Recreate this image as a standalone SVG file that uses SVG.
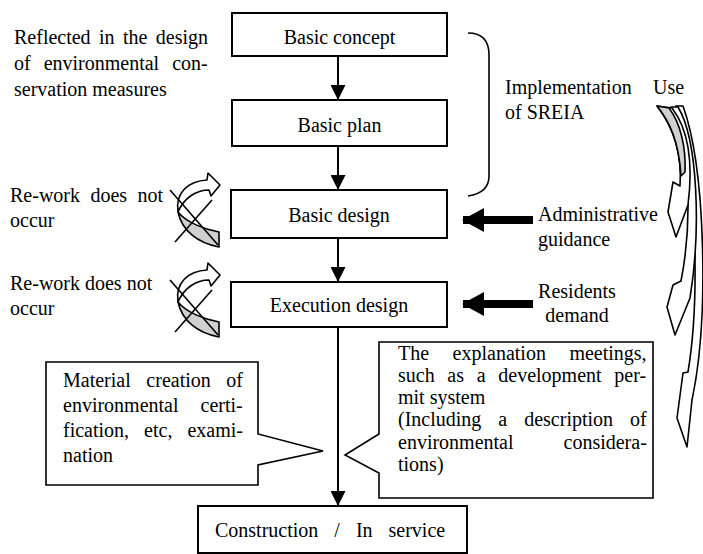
<svg xmlns="http://www.w3.org/2000/svg" width="703" height="554" viewBox="0 0 703 554">
<style>
text{font-family:"Liberation Serif","Times New Roman",serif;font-size:20px;fill:#000}
.box{fill:#fff;stroke:#000;stroke-width:2}
.call{fill:#fff;stroke:#000;stroke-width:1.6}
.flow{stroke:#000;stroke-width:2;fill:none}
.thick{stroke:#000;stroke-width:8;fill:none}
.mid{text-anchor:middle}
.rib{fill:#fff;stroke:#000;stroke-width:1.6;stroke-linejoin:round}
.ribg{fill:#d0d0d0;stroke:#000;stroke-width:1.6;stroke-linejoin:round}
</style>
<defs>
<marker id="ah" viewBox="0 0 15 15" refX="15" refY="7.5" markerWidth="15" markerHeight="15" markerUnits="userSpaceOnUse" orient="auto">
<path d="M0,0 L15,7.5 L0,15 Z" fill="#000"/>
</marker>
<marker id="bh" viewBox="0 0 22 24" refX="21" refY="12" markerWidth="22" markerHeight="24" markerUnits="userSpaceOnUse" orient="auto">
<path d="M0,0 L22,12 L0,24 Z" fill="#000"/>
</marker>
<g id="rework">
<path class="ribg" d="M8,39 C12,58 28,70 49,74 L49,59 C33,56 16,49 8,39 Z"/>
<path class="rib" d="M8,39 C5,20 18,8 37,7 L38,0 L50,12 L41,23 L39,17 C26,17 14,25 8,39 Z"/>
<line x1="0" y1="17" x2="48" y2="72" stroke="#000" stroke-width="1.6"/>
<line x1="5" y1="69" x2="42" y2="27" stroke="#000" stroke-width="1.6"/>
</g>
</defs>

<g id="connectors">
<line class="flow" x1="338" y1="56" x2="338" y2="100" marker-end="url(#ah)"/>
<line class="flow" x1="338" y1="146" x2="338" y2="190" marker-end="url(#ah)"/>
<line class="flow" x1="338" y1="238" x2="338" y2="282" marker-end="url(#ah)"/>
<line class="flow" x1="338" y1="327" x2="338" y2="506" marker-end="url(#ah)"/>
<line class="thick" x1="533" y1="220" x2="463" y2="220" marker-end="url(#bh)"/>
<line class="thick" x1="533" y1="304" x2="463" y2="304" marker-end="url(#bh)"/>
</g>

<g id="node-basic-concept">
<rect class="box" x="232" y="13" width="215" height="43"/>
<text class="mid" x="339.5" y="44">Basic concept</text>
</g>
<g id="node-basic-plan">
<rect class="box" x="232" y="100" width="215" height="46"/>
<text class="mid" x="339.5" y="132">Basic plan</text>
</g>
<g id="node-basic-design">
<rect class="box" x="231" y="190" width="216" height="48"/>
<text class="mid" x="339" y="222">Basic design</text>
</g>
<g id="node-execution-design">
<rect class="box" x="231" y="282" width="216" height="45"/>
<text class="mid" x="339" y="312">Execution design</text>
</g>
<g id="node-construction">
<rect class="box" x="198" y="506" width="269" height="47"/>
<text x="215" y="537" style="word-spacing:11px">Construction / In service</text>
</g>

<g id="note-reflected">
<text x="14" y="44" style="word-spacing:3.4px">Reflected in the design</text>
<text x="14" y="70" style="word-spacing:8px">of environmental con-</text>
<text x="14" y="96">servation measures</text>
</g>

<g id="bracket">
<path d="M468,33 C482,33 489,40 489,55 L489,176 C489,188 482,194 468,196" fill="none" stroke="#000" stroke-width="1.6"/>
</g>

<g id="note-sreia">
<text x="505" y="94">Implementation</text>
<text x="653" y="94">Use</text>
<text x="505" y="119">of SREIA</text>
</g>

<g id="use-arrows">
<path class="rib" d="M676,106 L683,106 C706,170 709,320 692,400 L687,447 L677,418 L683,373 L688,372 C700,300 697,170 676,106 Z"/>
<path class="rib" d="M671,107 L678,107 C698,140 701,230 690,298 L675,335 L667,307 L673,285 L681,281 C692,225 691,150 671,107 Z"/>
<path class="rib" d="M657,106 L672,108 C689,130 693,165 688,205 L676,237 L668,212 L673,182 L680,186 C682,155 674,128 657,106 Z"/>
<path class="ribg" d="M657,106 L669,108 C681,124 686,148 685,172 L681,176 C679,142 670,122 657,106 Z"/>
</g>

<g id="note-admin">
<text x="538" y="221">Administrative</text>
<text x="538" y="246">guidance</text>
</g>
<g id="note-residents">
<text class="mid" x="577" y="298">Residents</text>
<text class="mid" x="577" y="322">demand</text>
</g>

<g id="rework-1">
<text x="10" y="202" style="word-spacing:5.4px">Re-work does not</text>
<text x="10" y="227">occur</text>
<use href="#rework" x="170" y="173"/>
</g>
<g id="rework-2">
<text x="10" y="290">Re-work does not</text>
<text x="10" y="315">occur</text>
<use href="#rework" x="170" y="263"/>
</g>

<g id="callout-material">
<path class="call" d="M46,362 L258,362 L258,434 L323,451 L258,465 L258,485 L46,485 Z"/>
<text x="63" y="387" style="word-spacing:10.6px">Material creation of</text>
<text x="63" y="412" style="word-spacing:17px">environmental certi-</text>
<text x="63" y="437" style="word-spacing:10px">fication, etc, exami-</text>
<text x="63" y="462">nation</text>
</g>

<g id="callout-explanation">
<path class="call" d="M379,342 L653,342 L653,498 L379,498 L379,473 L345,455 L379,434 Z"/>
<text x="398" y="360" style="word-spacing:18.5px">The explanation meetings,</text>
<text x="398" y="382" style="word-spacing:7.7px">such as a development per-</text>
<text x="398" y="404">mit system</text>
<text x="398" y="426" style="word-spacing:12px">(Including a description of</text>
<text x="398" y="449" style="word-spacing:45px">environmental considera-</text>
<text x="398" y="471">tions)</text>
</g>
</svg>
